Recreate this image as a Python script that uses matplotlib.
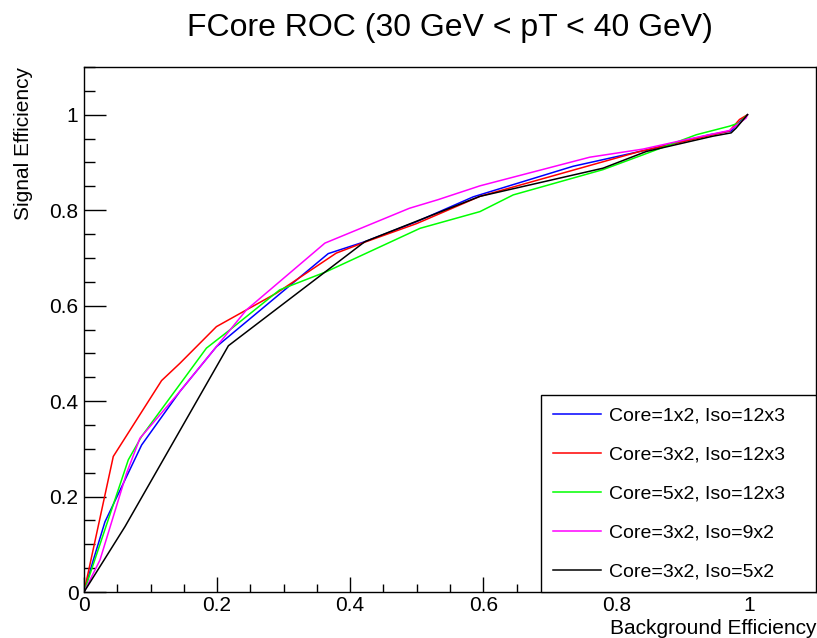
import matplotlib.pyplot as plt
from matplotlib.ticker import MultipleLocator

plt.rcParams['font.family'] = ['Liberation Sans', 'DejaVu Sans']

# ROC points (background eff, signal eff)
bkg_core1_iso12 = [0.0, 0.014, 0.0315, 0.0866, 0.144, 0.199, 0.367, 0.422, 0.50, 0.585, 0.735, 0.845, 0.940, 0.9725, 0.985, 0.997]
sig_core1_iso12 = [0.0, 0.067, 0.147, 0.308, 0.420, 0.514, 0.709, 0.734, 0.776, 0.828, 0.892, 0.926, 0.958, 0.966, 0.985, 1.0]

bkg_core3_iso12 = [0.0, 0.044, 0.1166, 0.144, 0.199, 0.289, 0.379, 0.424, 0.50, 0.595, 0.835, 0.970, 0.985, 0.997]
sig_core3_iso12 = [0.0, 0.284, 0.443, 0.479, 0.556, 0.626, 0.710, 0.734, 0.772, 0.829, 0.923, 0.966, 0.990, 1.0]

bkg_core5_iso12 = [0.0, 0.0666, 0.0866, 0.184, 0.219, 0.294, 0.364, 0.505, 0.595, 0.645, 0.780, 0.840, 0.920, 0.970, 0.985, 0.997]
sig_core5_iso12 = [0.0, 0.277, 0.326, 0.511, 0.549, 0.633, 0.671, 0.762, 0.797, 0.832, 0.885, 0.916, 0.958, 0.976, 0.983, 1.0]

bkg_core3_iso9 = [0.0, 0.024, 0.064, 0.084, 0.144, 0.244, 0.362, 0.489, 0.532, 0.595, 0.760, 0.840, 0.905, 0.970, 0.995, 0.997]
sig_core3_iso9 = [0.0, 0.067, 0.249, 0.322, 0.420, 0.591, 0.731, 0.804, 0.822, 0.851, 0.911, 0.928, 0.948, 0.967, 0.993, 1.0]

bkg_core3_iso5 = [0.0, 0.0616, 0.217, 0.422, 0.50, 0.595, 0.780, 0.845, 0.945, 0.9725, 0.980, 0.997]
sig_core3_iso5 = [0.0, 0.137, 0.516, 0.734, 0.777, 0.829, 0.888, 0.923, 0.955, 0.962, 0.972, 1.0]

curves = [
    (bkg_core1_iso12, sig_core1_iso12, "Core=1x2, Iso=12x3", "#0000ff"),
    (bkg_core3_iso12, sig_core3_iso12, "Core=3x2, Iso=12x3", "#ff0000"),
    (bkg_core5_iso12, sig_core5_iso12, "Core=5x2, Iso=12x3", "#00ff00"),
    (bkg_core3_iso9, sig_core3_iso9, "Core=3x2, Iso=9x2", "#ff00ff"),
    (bkg_core3_iso5, sig_core3_iso5, "Core=3x2, Iso=5x2", "#000000"),
]

fig = plt.figure(figsize=(8.17, 6.38), dpi=100)
ax = fig.add_axes([84 / 817, 46 / 638, 732 / 817, 525 / 638])

for x, y, name, col in curves:
    ax.plot(x, y, color=col, lw=1.1, label=name)

ax.set_xlim(0, 1.1)
ax.set_ylim(0, 1.1)
ax.xaxis.set_minor_locator(MultipleLocator(0.05))
ax.yaxis.set_minor_locator(MultipleLocator(0.05))
ax.set_xticks([0, 0.2, 0.4, 0.6, 0.8, 1.0])
ax.set_xticklabels(["0", "0.2", "0.4", "0.6", "0.8", "1"])
ax.set_yticks([0, 0.2, 0.4, 0.6, 0.8, 1.0])
ax.set_yticklabels(["0", "0.2", "0.4", "0.6", "0.8", "1"])
ax.tick_params(axis='x', which='major', direction='in', length=11, width=1, labelsize=15, pad=3)
ax.tick_params(axis='x', which='minor', direction='in', length=6, width=1)
ax.tick_params(axis='y', which='major', direction='in', length=16, width=1, labelsize=15, pad=4)
ax.tick_params(axis='y', which='minor', direction='in', length=8, width=1)
for s in ax.spines.values():
    s.set_linewidth(1)

ax.set_title("FCore ROC (30 GeV < pT < 40 GeV)", fontsize=23, pad=22)
ax.set_xlabel("Background Efficiency", fontsize=15, loc='right', labelpad=3)
ax.set_ylabel("Signal Efficiency", fontsize=15, loc='top', labelpad=12)

# legend box spans x 541..816 px of the figure
leg = ax.legend(loc='lower left', bbox_to_anchor=((541 - 84) / 732, 0.0, (816 - 541) / 732, 0.375),
                mode='expand', fontsize=14,
                frameon=True, fancybox=False, edgecolor='black', framealpha=1,
                borderaxespad=0, handlelength=2.5, handletextpad=0.4,
                labelspacing=1.1, borderpad=0.6)
leg.get_frame().set_linewidth(1)

fig.savefig("out.png", dpi=100)
